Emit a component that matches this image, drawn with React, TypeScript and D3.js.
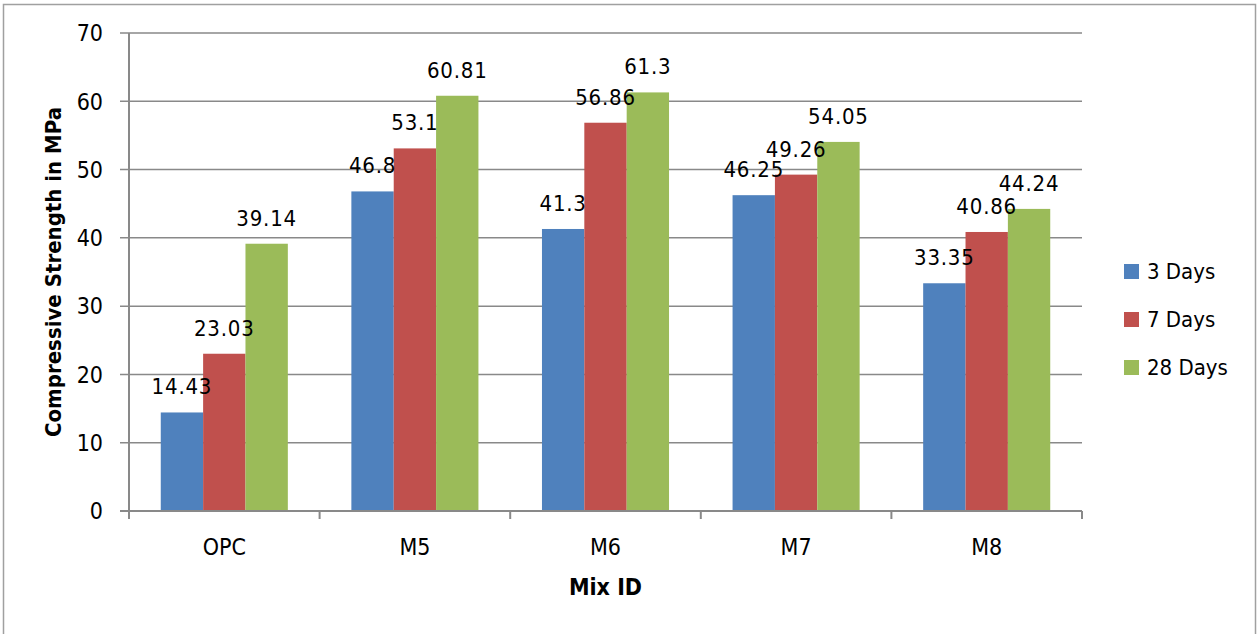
import React from "react";
import * as d3 from "d3";

const categories = ["OPC", "M5", "M6", "M7", "M8"];
const seriesNames = ["3 Days", "7 Days", "28 Days"];
const days3 = [14.43, 46.8, 41.3, 46.25, 33.35];
const days7 = [23.03, 53.1, 56.86, 49.26, 40.86];
const days28 = [39.14, 60.81, 61.3, 54.05, 44.24];
const yTicks = [0, 10, 20, 30, 40, 50, 60, 70];
const colors = ["#4F81BD", "#C0504D", "#9BBB59"];

const FONT = "'Liberation Sans Narrow', 'DejaVu Sans Condensed', 'Roboto', sans-serif";

export default function App() {
  const W = 1257;
  const H = 634;
  const left = 129;
  const right = 1082;
  const top = 33;
  const bottom = 511;

  const values = [days3, days7, days28];

  const x = d3.scaleBand<string>().domain(categories).range([left, right]).padding(0);
  const bw = x.bandwidth();
  const barW = bw / 4.5;
  const xs = d3
    .scaleBand<string>()
    .domain(seriesNames)
    .range([(bw - 3 * barW) / 2, (bw + 3 * barW) / 2])
    .padding(0);
  const y = d3.scaleLinear().domain([0, 70]).range([bottom, top]);

  const gridColor = "#898989";

  return (
    <svg width={W} height={H} style={{ display: "block", position: "absolute", left: 0, top: 0 }}>
      <rect x={0} y={0} width={W} height={H} fill="#fff" />
      <rect x={3.5} y={4.5} width={1252} height={660} fill="none" stroke="#a0a0a0" strokeWidth={1.5} />

      {/* gridlines and y ticks */}
      {yTicks.map((t) => (
        <g key={t}>
          <line x1={left - 9} x2={right} y1={y(t)} y2={y(t)} stroke={gridColor} strokeWidth={1.5} />
          <text
            x={103}
            y={y(t)}
            dy="0.36em"
            textAnchor="end"
            fontFamily={FONT}
            fontSize={23}
            fill="#000"
          >
            {t}
          </text>
        </g>
      ))}

      {/* bars */}
      {categories.map((c, ci) => (
        <g key={c} transform={`translate(${x(c)},0)`}>
          {seriesNames.map((s, si) => {
            const v = values[si][ci];
            const bx = xs(s)!;
            return (
              <rect
                key={s}
                x={bx}
                y={y(v)}
                width={xs.bandwidth()}
                height={y(0) - y(v)}
                fill={colors[si]}
              />
            );
          })}
        </g>
      ))}

      {/* axes */}
      <line x1={left} x2={left} y1={top} y2={bottom + 8} stroke={gridColor} strokeWidth={2} />
      <line x1={left - 9} x2={right} y1={bottom} y2={bottom} stroke={gridColor} strokeWidth={2} />
      {d3.range(categories.length + 1).map((i) => {
        const px = left + i * bw;
        return <line key={i} x1={px} x2={px} y1={bottom} y2={bottom + 8} stroke={gridColor} strokeWidth={2} />;
      })}

      {/* data labels */}
      {categories.map((c, ci) => (
        <g key={c} transform={`translate(${x(c)},0)`}>
          {seriesNames.map((s, si) => {
            const v = values[si][ci];
            return (
              <text
                key={s}
                x={xs(s)! + xs.bandwidth() / 2}
                y={y(v) - 18}
                textAnchor="middle"
                fontFamily={FONT}
                fontSize={22}
                letterSpacing={0.8}
                fill="#000"
              >
                {v}
              </text>
            );
          })}
        </g>
      ))}

      {/* category labels */}
      {categories.map((c) => (
        <text
          key={c}
          x={x(c)! + bw / 2}
          y={555}
          textAnchor="middle"
          fontFamily={FONT}
          fontSize={23}
          fill="#000"
        >
          {c}
        </text>
      ))}

      {/* axis titles */}
      <text
        x={(left + right) / 2}
        y={595}
        textAnchor="middle"
        fontFamily={FONT}
        fontWeight="bold"
        fontSize={23}
        fill="#000"
      >
        Mix ID
      </text>
      <text
        transform={`translate(61,${(top + bottom) / 2}) rotate(-90)`}
        textAnchor="middle"
        fontFamily={FONT}
        fontWeight="bold"
        fontSize={22}
        fill="#000"
      >
        Compressive Strength in MPa
      </text>

      {/* legend */}
      {seriesNames.map((s, si) => {
        const cy = 271 + si * 48;
        return (
          <g key={s}>
            <rect x={1124} y={cy - 7} width={15} height={15} fill={colors[si]} />
            <text x={1147} y={cy} dy="0.36em" fontFamily={FONT} fontSize={22} fill="#000">
              {s}
            </text>
          </g>
        );
      })}
    </svg>
  );
}
